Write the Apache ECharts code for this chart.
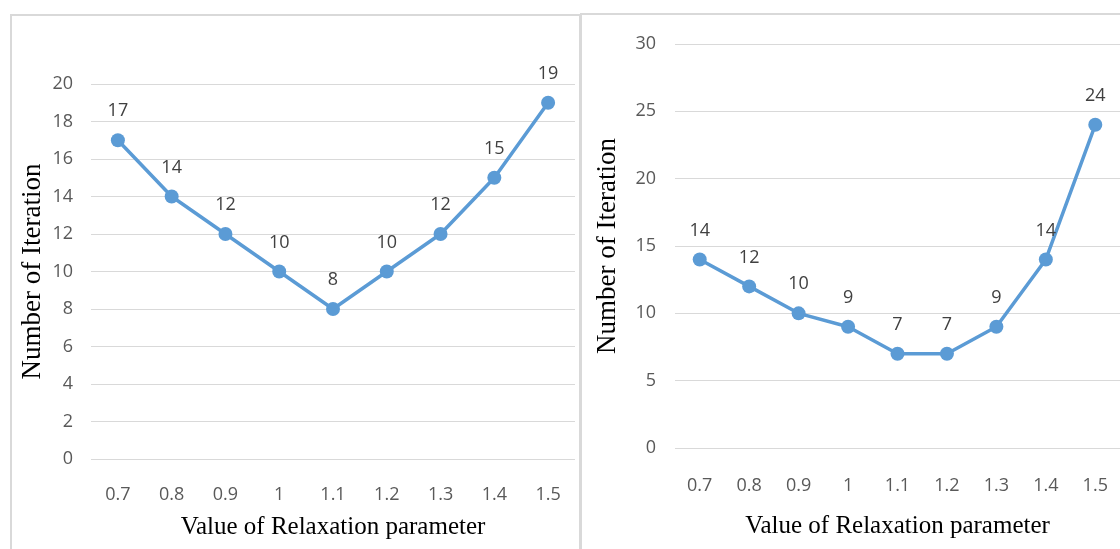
<!DOCTYPE html>
<html><head><meta charset="utf-8">
<script src="https://cdn.jsdelivr.net/npm/echarts@6/dist/echarts.min.js"></script>
<style>html,body{margin:0;padding:0;background:#fff;}#c{width:1120px;height:549px;}</style>
</head><body><div id="c"></div>
<script>
const categories = ['0.7','0.8','0.9','1','1.1','1.2','1.3','1.4','1.5'];
const leftValues = [17,14,12,10,8,10,12,15,19];
const rightValues = [14,12,10,9,7,7,9,14,24];
const xName = 'Value of Relaxation parameter';
const yName = 'Number of Iteration';

const tickFont = {color:'#595959', fontSize:18, fontFamily:'Open Sans'};
const xNameFont = {color:'#000', fontSize:25, fontFamily:'Liberation Serif'};
const yNameFont = {color:'#000', fontSize:27, fontFamily:'Liberation Serif'};
const lineColor = '#5B9BD5';

const chart = echarts.init(document.getElementById('c'), null, {renderer:'canvas'});
function xAxis(idx, gap, margin){
  return {type:'category', gridIndex:idx, data:categories, boundaryGap:true,
    axisLine:{show:false}, axisTick:{show:false},
    axisLabel:Object.assign({margin:margin}, tickFont),
    name:xName, nameLocation:'middle', nameGap:gap, nameTextStyle:xNameFont};
}
function yAxis(idx, max, interval, gap, margin){
  return {type:'value', gridIndex:idx, min:0, max:max, interval:interval,
    axisLine:{show:false}, axisTick:{show:false},
    splitLine:{lineStyle:{color:'#d9d9d9', width:1}},
    axisLabel:Object.assign({margin:margin}, tickFont),
    name:yName, nameLocation:'middle', nameGap:gap, nameTextStyle:yNameFont};
}
function series(idx, data){
  return {type:'line', xAxisIndex:idx, yAxisIndex:idx, data:data,
    symbol:'circle', symbolSize:14, lineStyle:{color:lineColor, width:3.5},
    itemStyle:{color:lineColor},
    label:{show:true, position:'top', distance:13, color:'#404040', fontSize:18, fontFamily:'Open Sans'},
    animation:false};
}
chart.setOption({
  animation:false,
  graphic:[
    {type:'rect', shape:{x:11, y:15, width:569, height:540}, style:{fill:'none', stroke:'#d9d9d9', lineWidth:2}, z:-1},
    {type:'rect', shape:{x:581, y:14, width:545, height:540}, style:{fill:'none', stroke:'#d9d9d9', lineWidth:2}, z:-1}
  ],
  grid:[
    {left:91, right:545, top:84, bottom:90},
    {left:675, right:-5, top:44, bottom:101}
  ],
  xAxis:[xAxis(0,56,27), xAxis(1,66,29)],
  yAxis:[yAxis(0,20,2,45,18), yAxis(1,30,5,54,19)],
  series:[series(0,leftValues), series(1,rightValues)]
});
</script></body></html>
